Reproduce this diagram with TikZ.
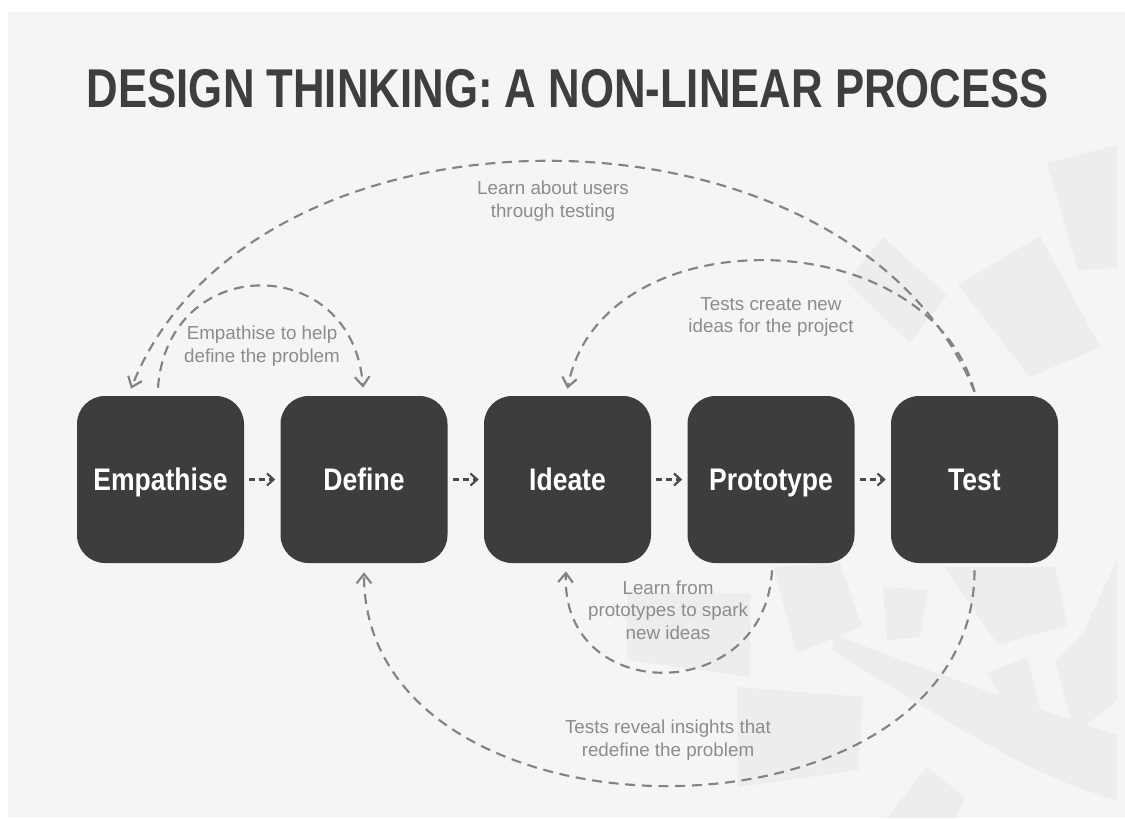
\documentclass[tikz,border=0pt]{standalone}
\usepackage{fontspec}
\setmainfont{Liberation Sans}
\newfontfamily\titlefont[FakeStretch=0.8]{Liberation Sans}
\newfontfamily\boxfont[FakeStretch=0.85]{Liberation Sans}
\usetikzlibrary{arrows.meta,calc}
\definecolor{panel}{HTML}{F5F5F5}
\definecolor{mark}{HTML}{EDEDED}
\definecolor{boxgray}{HTML}{3D3D3D}
\definecolor{titlegray}{HTML}{3E3E3E}
\definecolor{labelgray}{HTML}{8C8C8C}
\definecolor{linegray}{HTML}{838383}
\definecolor{flowgray}{HTML}{4A4A4A}
\tikzset{
  stage/.style={fill=boxgray, draw=none, rounded corners=21pt,
    minimum width=125.25pt, minimum height=125.25pt, inner sep=0pt,
    text=white, font=\boxfont\bfseries\fontsize{23.4}{28}\selectfont,
    text height=16.5pt, text depth=0pt},
  note/.style={text=labelgray, align=center, inner sep=0pt,
    font=\fontsize{14.1}{16.9}\selectfont},
  loopline/.style={draw=linegray, line width=1.6pt,
    dash pattern=on 7.5pt off 5pt,
    -{Straight Barb[length=7pt,width=11pt]}},
  flow/.style={draw=flowgray, line width=1.6pt,
    dash pattern=on 4.5pt off 3pt, shorten <=3.75pt, shorten >=3.75pt,
    -{Straight Barb[length=5pt,width=9pt]}},
  markshape/.style={fill=mark, draw=none}
}
\begin{document}
\begin{tikzpicture}[x=0.75pt,y=-0.75pt]
\useasboundingbox (0,0) rectangle (1125,818);
\fill[white] (0,0) rectangle (1125,818);
\fill[panel] (8,12) rectangle (1125,818);
% faint watermark
\fill[markshape] (883,237) -- (947,295) -- (910,343) -- (847,282) -- cycle;
\fill[markshape] (958,285) -- (1040,236) -- (1100,347) -- (1030,377) -- cycle;
\fill[markshape] (1047,163) -- (1117,145) -- (1117,268) -- (1078,270) -- cycle;
\fill[markshape] (773,567) -- (840,563) -- (862,627) -- (797,653) -- cycle;
\fill[markshape] (883,587) -- (928,590) -- (920,637) -- (887,640) -- cycle;
\fill[markshape] (737,687) -- (863,697) -- (858,770) -- (738,787) -- cycle;
\fill[markshape] (627,593) -- (750,593) -- (750,677) -- (627,660) -- cycle;
\fill[markshape] (987,673) -- (1027,657) -- (1040,707) -- (1010,715) -- cycle;
\fill[markshape] (887,818) -- (927,767) -- (965,797) -- (955,818) -- cycle;
\fill[markshape] (1083,633) -- (1117,560) -- (1117,650) -- cycle;
\fill[markshape] (945,567) -- (1055,567) -- (1068,625) -- (998,645) -- cycle;
\fill[markshape] (835,635) .. controls (900,660) and (980,690) .. (1117,735)
  -- (1117,800) .. controls (1040,780) and (960,730) .. (832,650) -- cycle;
\fill[markshape] (1055,660) .. controls (1080,640) and (1100,610) .. (1117,590)
  -- (1117,700) .. controls (1100,715) and (1085,725) .. (1075,735) -- cycle;
% title
\node[font=\titlefont\bfseries\fontsize{41}{48}\selectfont, text=titlegray,
  anchor=base, inner sep=0pt] (title) at (568,107)
  {DESIGN THINKING: A NON-LINEAR PROCESS};
% stages
\node[stage] (emp) at (160.5,479.5) {Empathise};
\node[stage] (def) at (364,479.5) {Define};
\node[stage] (ide) at (567.5,479.5) {Ideate};
\node[stage] (pro) at (771,479.5) {Prototype};
\node[stage] (tst) at (974.5,479.5) {Test};
% forward arrows
\draw[flow] (emp) -- (def);
\draw[flow] (def) -- (ide);
\draw[flow] (ide) -- (pro);
\draw[flow] (pro) -- (tst);
% loops
\draw[loopline] ($(tst.north)+(0,-4)$) .. controls +(-122,-305) and +(121,-306) .. ($(emp.north)+(-29.5,-7)$);
\draw[loopline] ($(tst.north)+(0,-4)$) .. controls +(-45,-172) and +(33,-174) .. ($(ide.north)+(0,-7)$);
\draw[loopline] ($(emp.north)+(-2.5,-8)$) .. controls +(10,-136) and +(-10,-136) .. ($(def.north)+(-1,-8)$);
\draw[loopline] ($(pro.south)+(1,7)$) .. controls +(-7,136) and +(-6,135) .. ($(ide.south)+(-1.5,8)$);
\draw[loopline] ($(tst.south)+(0,7)$) .. controls +(0,287) and +(0,285) .. ($(def.south)+(0,9)$);
% labels
\node[note] (n1) at (553,201) {Learn about users\\through testing};
\node[note] (n2) at (262,346) {Empathise to help\\define the problem};
\node[note] (n3) at (771,317) {Tests create new\\ideas for the project};
\node[note] (n4) at (668,610) {Learn from\\prototypes to spark\\new ideas};
\node[note] (n5) at (668,740) {Tests reveal insights that\\redefine the problem};
\end{tikzpicture}
\end{document}
